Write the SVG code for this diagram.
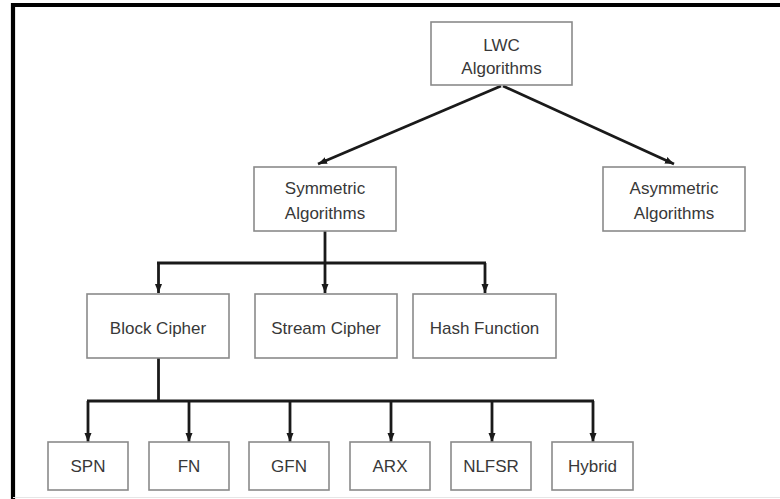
<svg xmlns="http://www.w3.org/2000/svg" width="780" height="499" viewBox="0 0 780 499">
<style>
.box{fill:#fff;stroke:#8a8a8a;stroke-width:1.6}
.t{font-family:"Liberation Sans",Arial,sans-serif;font-size:17px;fill:#383838;text-anchor:middle}
.c{fill:none;stroke:#1a1a1a;stroke-width:2.8}
.a{fill:none;stroke:#1a1a1a;stroke-width:2.8;marker-end:url(#ah)}
</style>
<defs>
<marker id="ah" markerUnits="userSpaceOnUse" markerWidth="10" markerHeight="10" viewBox="0 0 10 10" refX="9" refY="5" orient="auto">
<path d="M0,1.5 L9,5 L0,8.5 Z" fill="#1a1a1a"/>
</marker>
</defs>
<rect x="0" y="0" width="780" height="499" fill="#fff"/>
<g id="frame">
<path d="M13,499 V5 H780" fill="none" stroke="#000" stroke-width="4.2"/>
<line x1="13" y1="497.5" x2="780" y2="497.5" stroke="#e6e6e6" stroke-width="1.2"/>
</g>
<g id="connectors">
<line class="a" x1="501" y1="86" x2="318" y2="164"/>
<line class="a" x1="503" y1="86" x2="674" y2="164"/>
<line class="c" x1="325" y1="231" x2="325" y2="263"/>
<line class="c" x1="157" y1="263" x2="486" y2="263"/>
<line class="a" x1="158.5" y1="263" x2="158.5" y2="293"/>
<line class="a" x1="325" y1="263" x2="325" y2="293"/>
<line class="a" x1="485" y1="263" x2="485" y2="293"/>
<line class="c" x1="158.5" y1="358" x2="158.5" y2="401"/>
<line class="c" x1="87" y1="401" x2="594" y2="401"/>
<line class="a" x1="88" y1="401" x2="88" y2="442"/>
<line class="a" x1="189" y1="401" x2="189" y2="442"/>
<line class="a" x1="290" y1="401" x2="290" y2="442"/>
<line class="a" x1="391" y1="401" x2="391" y2="442"/>
<line class="a" x1="492" y1="401" x2="492" y2="442"/>
<line class="a" x1="593" y1="401" x2="593" y2="442"/>
</g>
<g id="lwc">
<rect class="box" x="431" y="22" width="141" height="63"/>
<text class="t" x="501.5" y="51">LWC</text>
<text class="t" x="501.5" y="74">Algorithms</text>
</g>
<g id="symmetric">
<rect class="box" x="254" y="167" width="142" height="64"/>
<text class="t" x="325" y="194">Symmetric</text>
<text class="t" x="325" y="219">Algorithms</text>
</g>
<g id="asymmetric">
<rect class="box" x="603" y="167" width="142" height="64"/>
<text class="t" x="674" y="194">Asymmetric</text>
<text class="t" x="674" y="219">Algorithms</text>
</g>
<g id="block">
<rect class="box" x="87" y="294" width="142" height="64"/>
<text class="t" x="158" y="334">Block Cipher</text>
</g>
<g id="stream">
<rect class="box" x="255" y="294" width="142" height="64"/>
<text class="t" x="326" y="334">Stream Cipher</text>
</g>
<g id="hash">
<rect class="box" x="413" y="294" width="143" height="64"/>
<text class="t" x="484.5" y="334">Hash Function</text>
</g>
<g id="spn">
<rect class="box" x="48" y="442" width="80" height="48"/>
<text class="t" x="88" y="472">SPN</text>
</g>
<g id="fn">
<rect class="box" x="149" y="442" width="80" height="48"/>
<text class="t" x="189" y="472">FN</text>
</g>
<g id="gfn">
<rect class="box" x="249" y="442" width="80" height="48"/>
<text class="t" x="289" y="472">GFN</text>
</g>
<g id="arx">
<rect class="box" x="350" y="442" width="80" height="48"/>
<text class="t" x="390" y="472">ARX</text>
</g>
<g id="nlfsr">
<rect class="box" x="451" y="442" width="80" height="48"/>
<text class="t" x="491" y="472">NLFSR</text>
</g>
<g id="hybrid">
<rect class="box" x="552" y="442" width="81" height="48"/>
<text class="t" x="592.5" y="472">Hybrid</text>
</g>
</svg>
